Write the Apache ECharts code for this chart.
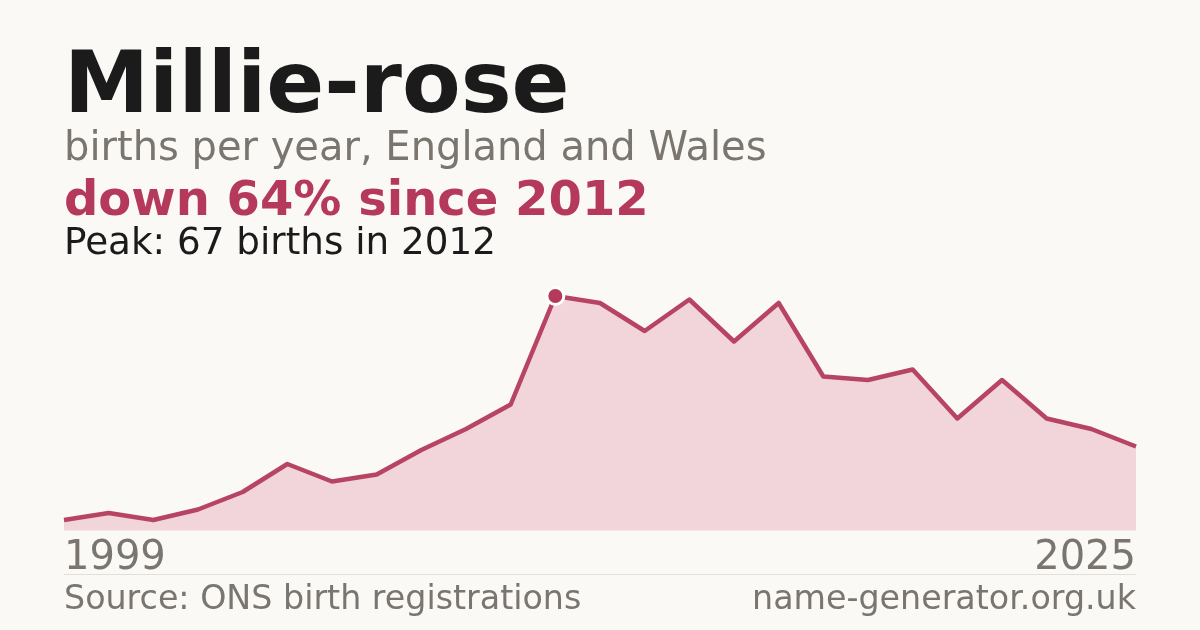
<!DOCTYPE html>
<html><head><meta charset="utf-8">
<script src="https://cdn.jsdelivr.net/npm/echarts@6/dist/echarts.min.js"></script>
<style>html,body{margin:0;padding:0;background:#faf9f5;}#c{width:1200px;height:630px;}</style>
</head><body><div id="c"></div>
<script>
const years = ['1999','2000','2003','2004','2005','2006','2007','2008','2009','2010','2011','2012','2013','2014','2015','2016','2017','2018','2019','2020','2021','2022','2023','2024','2025'];
const births = [3,5,3,6,11,19,14,16,23,29,36,67,65,57,66,54,65,44,43,46,32,43,32,29,24];
const peakYear = '2012';
const peakValue = 67;

const F = 'DejaVu Sans';
const chart = echarts.init(document.getElementById('c'), null, {renderer:'canvas'});
const peakIdx = years.indexOf(peakYear);
chart.setOption({
  backgroundColor:'#faf9f5',
  animation:false,
  grid:{left:64,right:64,top:296,bottom:99.5,containLabel:false},
  xAxis:{type:'category',data:years,boundaryGap:false,
    axisLine:{show:false},axisTick:{show:false},splitLine:{show:false},
    axisLabel:{color:'#7a766f',fontFamily:F,fontSize:40,margin:8,
      interval:(i)=> i===0 || i===years.length-1,
      alignMinLabel:'left',alignMaxLabel:'right'}},
  yAxis:{type:'value',min:0,max:peakValue,show:false,splitLine:{show:false}},
  series:[{type:'line',data:births,symbol:'none',smooth:false,
    lineStyle:{color:'#b84464',width:4.5,join:'round'},
    areaStyle:{color:'#f1d5da',opacity:1},
    markPoint:{symbol:'circle',symbolSize:17,silent:true,
      itemStyle:{color:'#b5395a',borderColor:'#ffffff',borderWidth:3},
      label:{show:false},
      data:[{coord:[peakIdx,peakValue]}]}
  }],
  graphic:[
    {type:'text',x:64,y:89.5,style:{text:'Millie-rose',font:'bold 85.5px "DejaVu Sans"',fill:'#1b1b1b',verticalAlign:'middle'}},
    {type:'text',x:64,y:150,style:{text:'births per year, England and Wales',font:'40px "DejaVu Sans"',fill:'#7a756f',verticalAlign:'middle'}},
    {type:'text',x:64,y:203,style:{text:'down 64% since 2012',font:'bold 48px "DejaVu Sans"',fill:'#b5395a',verticalAlign:'middle'}},
    {type:'text',x:64,y:244,style:{text:'Peak: 67 births in 2012',font:'37.3px "DejaVu Sans"',fill:'#1b1b1b',verticalAlign:'middle'}},
    {type:'line',shape:{x1:64,y1:574.5,x2:1136,y2:574.5},style:{stroke:'#e2dfda',lineWidth:1}},
    {type:'text',x:64,y:600,style:{text:'Source: ONS birth registrations',font:'33.3px "DejaVu Sans"',fill:'#7a756f',verticalAlign:'middle'}},
    {type:'text',x:1136,y:600,style:{text:'name-generator.org.uk',font:'33.3px "DejaVu Sans"',fill:'#7a756f',verticalAlign:'middle',align:'right'}}
  ]
});
</script></body></html>
